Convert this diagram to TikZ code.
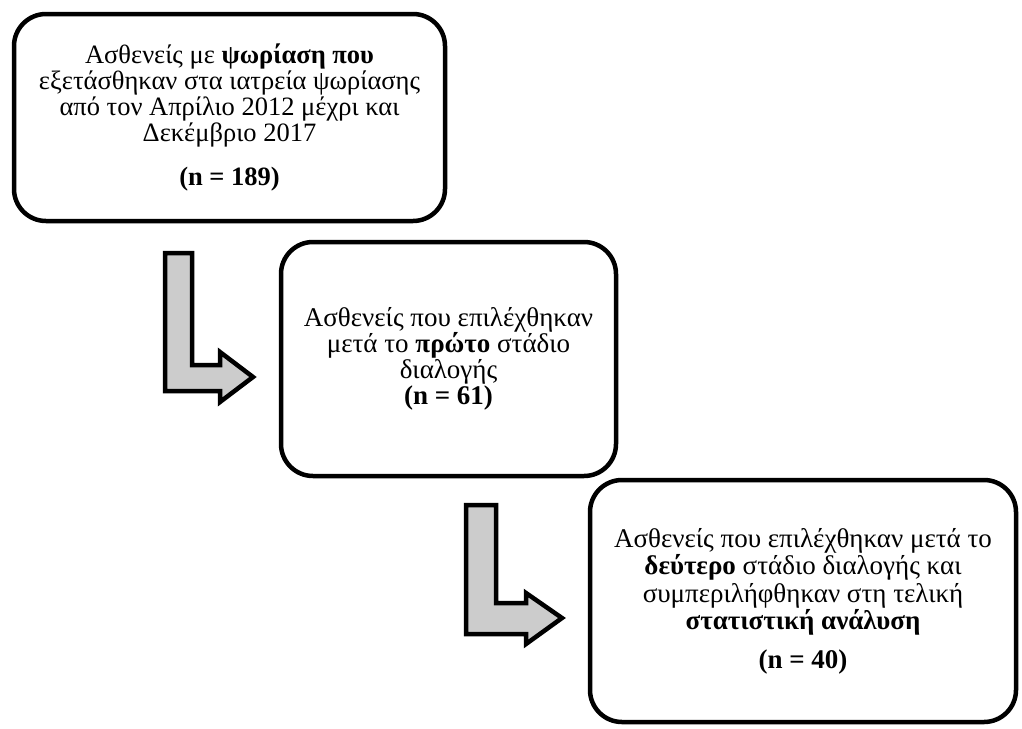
\documentclass[tikz,border=0pt]{standalone}
\usepackage{fontspec}
\setmainfont{Liberation Serif}
\begin{document}
\begin{tikzpicture}[x=1pt,y=-1pt,
  flowbox/.style={draw=black, line width=4.5pt, rounded corners=32pt, fill=white,
    align=center, inner sep=0pt},
  blockarrow/.style={draw=black, line width=4.5pt, fill=gray!40, line join=miter}]
\useasboundingbox (0,0) rectangle (1022,728);
\fill[white] (0,0) rectangle (1022,728);

% boxes
\node[flowbox, minimum width=431pt, minimum height=207pt,
      font=\fontsize{26.5}{26}\selectfont] (b1) at (229.5,117.5)
  {Ασθενείς με \textbf{ψωρίαση που}\\
   εξετάσθηκαν στα ιατρεία ψωρίασης\\
   από τον Απρίλιο 2012 μέχρι και\\
   Δεκέμβριο 2017\\[18pt]
   \textbf{(n = 189)}};

\node[flowbox, minimum width=335pt, minimum height=234pt,
      font=\fontsize{27}{26}\selectfont] (b2) at (448.5,359)
  {Ασθενείς που επιλέχθηκαν\\
   μετά το \textbf{πρώτο} στάδιο\\
   διαλογής\\
   \textbf{(n = 61)}};

\node[flowbox, minimum width=426pt, minimum height=242pt,
      font=\fontsize{27}{27.5}\selectfont] (b3) at (803,601)
  {Ασθενείς που επιλέχθηκαν μετά το\\
   \textbf{δεύτερο} στάδιο διαλογής και\\
   συμπεριλήφθηκαν στη τελική\\
   \textbf{στατιστική ανάλυση}\\[11pt]
   \textbf{(n = 40)}};

% block arrows
\draw[blockarrow] (165,253) -- (192,253) -- (192,365) -- (220,365) -- (220,352)
  -- (253,377) -- (220,402) -- (220,391) -- (165,391) -- cycle;
\draw[blockarrow] (466,505) -- (496,505) -- (496,603) -- (526,603) -- (526,593)
  -- (562,618) -- (526,644) -- (526,634) -- (466,634) -- cycle;
\end{tikzpicture}
\end{document}
